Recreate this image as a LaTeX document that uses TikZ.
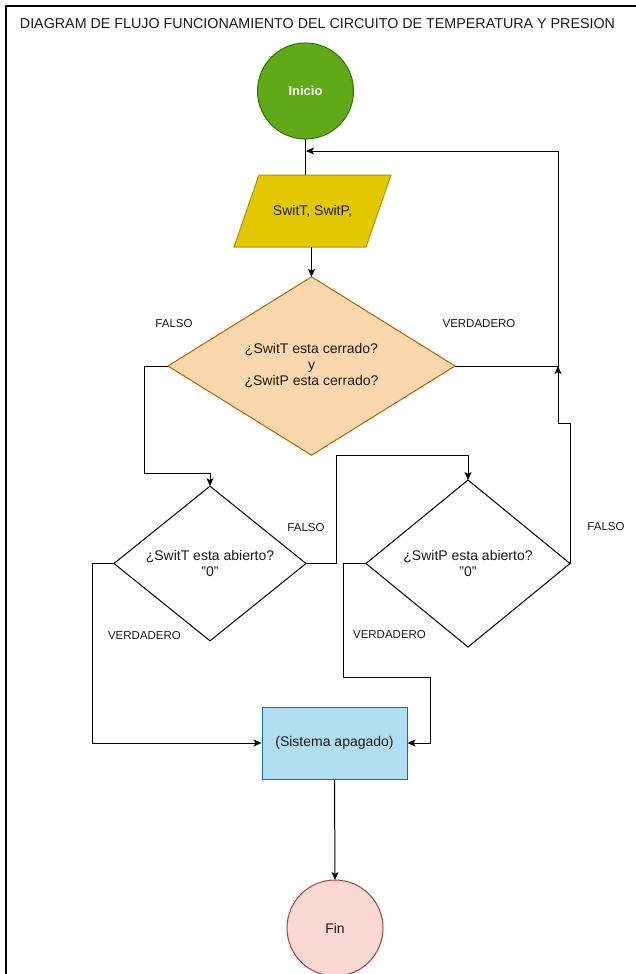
\documentclass[tikz,border=0pt]{standalone}
\usepackage{fontspec}
\setmainfont{Liberation Sans}
\usetikzlibrary{shapes.geometric,arrows.meta}
\definecolor{txt}{HTML}{1A1A1A}
\definecolor{greenfill}{HTML}{60A917}
\definecolor{greendraw}{HTML}{2D7600}
\definecolor{yelfill}{HTML}{E3C800}
\definecolor{yeldraw}{HTML}{B09500}
\definecolor{orfill}{HTML}{FAD7AC}
\definecolor{ordraw}{HTML}{B46504}
\definecolor{bluefill}{HTML}{B1DDF0}
\definecolor{bluedraw}{HTML}{10739E}
\definecolor{redfill}{HTML}{FAD9D5}
\definecolor{reddraw}{HTML}{AE4132}
\tikzset{
  maintext/.style={font=\fontsize{14}{16}\selectfont, text=txt, align=center},
  lbl/.style={font=\fontsize{11.5}{13}\selectfont, text=txt, inner sep=0pt},
  circ/.style={circle, minimum size=96pt, inner sep=0pt, outer sep=0pt, line width=1pt},
  dia/.style={diamond, inner sep=0pt, outer sep=0pt, line width=1pt, maintext},
  conn/.style={line width=1pt, draw=black},
  arr/.style={conn, -{Stealth[length=8pt,width=7pt,inset=2pt]}},
}
\begin{document}
\begin{tikzpicture}[x=1pt,y=-1pt]
\useasboundingbox (0,0) rectangle (636,974);
\fill[white] (0,0) rectangle (636,974);
% frame
\draw[line width=1.8pt, black] (6,980) -- (6,6) -- (640,6);
% title
\node[font=\fontsize{14.3}{16}\selectfont, text=txt, inner sep=0pt] (title) at (317.5,24) {DIAGRAM DE FLUJO FUNCIONAMIENTO DEL CIRCUITO DE TEMPERATURA Y PRESION};

% nodes
\node[circ, fill=greenfill, draw=greendraw, text=white, font=\fontsize{13}{15}\selectfont\bfseries] (start) at (305.5,91) {Inicio};

\draw[line width=1pt, fill=yelfill, draw=yeldraw] (259,175) -- (391,175) -- (366,247) -- (234,247) -- cycle;
\node[maintext, minimum width=132pt, minimum height=72pt, inner sep=0pt] (inp) at (312.5,211) {SwitT, SwitP,};

\node[dia, fill=orfill, draw=ordraw, minimum width=287pt, minimum height=168pt] (d1) at (311.5,366)
  {¿SwitT esta cerrado?\\y\\¿SwitP esta cerrado?};
\node[dia, fill=white, draw=black, minimum width=192pt, minimum height=143pt] (d2) at (210,563.5)
  {¿SwitT esta abierto?\\"0"};
\node[dia, fill=white, draw=black, minimum width=204pt, minimum height=167pt] (d3) at (468,563.5)
  {¿SwitP esta abierto?\\"0"};

\node[rectangle, maintext, fill=bluefill, draw=bluedraw, line width=1pt, minimum width=145pt, minimum height=72pt, inner sep=0pt] (box) at (334.5,743) {(Sistema apagado)};

\node[circ, fill=redfill, draw=reddraw, text=txt, font=\fontsize{14}{16}\selectfont] (fin) at (335,928) {Fin};

% coordinates
\coordinate (loopin) at (306,151);
\coordinate (corner) at (558,366);

% connectors
\draw[conn] (start.south) -- (start.south |- inp.north);
\draw[arr] (inp.south -| d1.north) -- (d1.north);
\draw[arr] (d1.east) -- (corner) -- (corner |- loopin) -- (loopin);
\draw[arr] (d1.west) -- (144,366) -- (144,473) -- (210,473) -- (d2.north);
\draw[arr] (d2.east) -- (336,563.5) -- (336,455) -- (468,455) -- (d3.north);
\draw[arr] (d3.east) -- (570,423) -- (558,423) -- (corner);
\draw[arr] (d2.west) -- (92,563.5) -- (92,743) -- (box.west);
\draw[arr] (d3.west) -- (343,563.5) -- (343,677) -- (430,677) -- (430,743) -- (box.east);
\draw[arr] (box.south) -- (fin.north);

% labels
\node[lbl] (l1) at (174,324) {FALSO};
\node[lbl] (l2) at (479,324) {VERDADERO};
\node[lbl] (l3) at (306,528) {FALSO};
\node[lbl] (l4) at (606,527) {FALSO};
\node[lbl] (l5) at (144.5,636) {VERDADERO};
\node[lbl] (l6) at (389.5,635) {VERDADERO};
\end{tikzpicture}
\end{document}
